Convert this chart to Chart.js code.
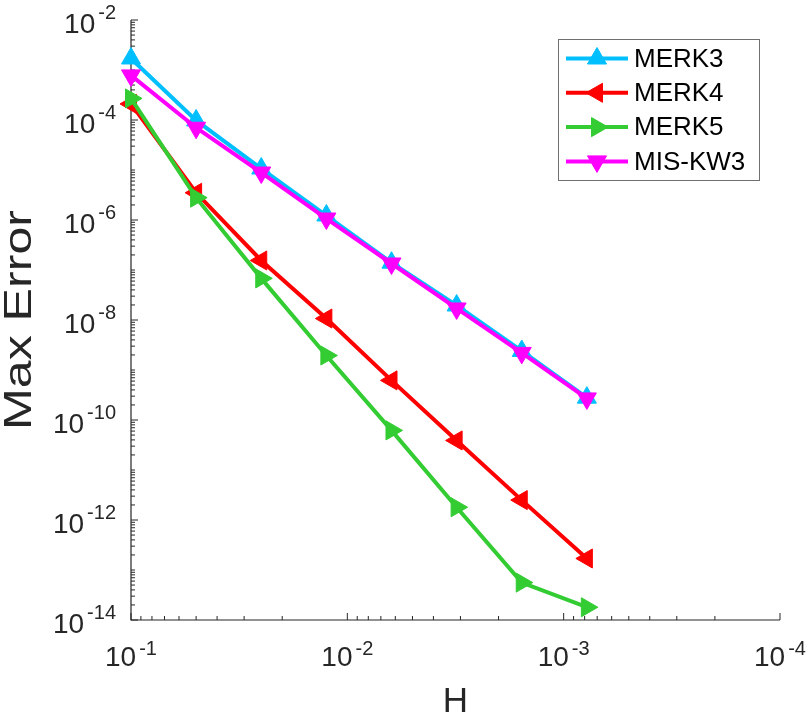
<!DOCTYPE html>
<html>
<head>
<meta charset="utf-8">
<script src="https://cdn.jsdelivr.net/npm/chart.js@4.4.1/dist/chart.umd.min.js"></script>
<style>
    html, body { margin: 0; padding: 0; background: #ffffff; }
    canvas { display: block; }
</style>
</head>
<body>
<canvas id="chart-error" width="809" height="715"></canvas>
<script>
// step sizes H and max error of each scheme
const stepSizes = [0.1, 0.05, 0.025, 0.0125, 0.00625, 0.003125, 0.0015625, 0.00078125];
const errMERK3 = [1.7e-3, 9.8e-5, 1.07e-5, 1.23e-6, 1.4e-7, 1.95e-8, 2.4e-9, 2.8e-10];
const errMERK4 = [2.1e-4, 3.5e-6, 1.55e-7, 1.07e-8, 6.2e-10, 3.9e-11, 2.5e-12, 1.7e-13];
const errMERK5 = [2.7e-4, 2.8e-6, 6.8e-8, 1.95e-9, 6.2e-11, 1.8e-12, 5.6e-14, 1.8e-14];
const errMISKW3 = [7.8e-4, 7.0e-5, 8.9e-6, 1.07e-6, 1.35e-7, 1.7e-8, 2.2e-9, 2.7e-10];

const seriesNames = ['MERK3', 'MERK4', 'MERK5', 'MIS-KW3'];

// tick labels (10^exp)
const xTickExps = ['-1', '-2', '-3', '-4'];
const yTickExps = ['-2', '-4', '-6', '-8', '-10', '-12', '-14'];

const FONT = '"Liberation Sans", Arial, Helvetica, sans-serif';
const AXIS_COLOR = '#262626';

function toPoints(xs, ys) {
    return xs.map((x, i) => ({ x: x, y: ys[i] }));
}

function makeSeries(label, values, color, rotation, order) {
    return {
        label: label,
        data: toPoints(stepSizes, values),
        borderColor: color,
        backgroundColor: color,
        borderWidth: 4,
        pointStyle: 'triangle',
        rotation: rotation,
        pointRadius: 11,
        pointBorderWidth: 1,
        pointBackgroundColor: color,
        pointBorderColor: color,
        tension: 0,
        fill: false,
        clip: false,
        order: order
    };
}

// minor tick values: 2..9 x 10^d plus unlabelled decades
function minorTicks(fromExp, toExp, majors) {
    const out = [];
    for (let d = fromExp; d < toExp; d++) {
        const base = Math.pow(10, d);
        if (!majors.includes(String(d))) out.push(base);
        for (let k = 2; k <= 9; k++) out.push(k * base);
    }
    return out;
}

// MATLAB-like axes: left + bottom lines, inward ticks, 10^n labels
const matlabAxes = {
    id: 'matlabAxes',
    beforeDatasetsDraw(chart) {
        const ctx = chart.ctx;
        const area = chart.chartArea;
        const xs = chart.scales.x;
        const ys = chart.scales.y;

        ctx.save();
        ctx.strokeStyle = AXIS_COLOR;
        ctx.lineWidth = 1.2;
        ctx.beginPath();
        ctx.moveTo(area.left, area.top);
        ctx.lineTo(area.left, area.bottom);
        ctx.lineTo(area.right, area.bottom);
        ctx.stroke();

        ctx.lineWidth = 1;
        ctx.beginPath();
        // x ticks
        xTickExps.forEach(e => {
            const px = xs.getPixelForValue(Math.pow(10, Number(e)));
            ctx.moveTo(px, area.bottom);
            ctx.lineTo(px, area.bottom - 7);
        });
        minorTicks(-4, -1, xTickExps).forEach(v => {
            const px = xs.getPixelForValue(v);
            ctx.moveTo(px, area.bottom);
            ctx.lineTo(px, area.bottom - 4);
        });
        // y ticks
        yTickExps.forEach(e => {
            const py = ys.getPixelForValue(Math.pow(10, Number(e)));
            ctx.moveTo(area.left, py);
            ctx.lineTo(area.left + 7, py);
        });
        minorTicks(-14, -2, yTickExps).forEach(v => {
            const py = ys.getPixelForValue(v);
            ctx.moveTo(area.left, py);
            ctx.lineTo(area.left + 4, py);
        });
        ctx.stroke();

        // tick labels
        ctx.fillStyle = AXIS_COLOR;
        ctx.textBaseline = 'alphabetic';
        const baseFont = '28px ' + FONT;
        const expFont = '20px ' + FONT;
        const gap = 3;

        xTickExps.forEach(e => {
            const px = xs.getPixelForValue(Math.pow(10, Number(e)));
            ctx.font = baseFont;
            const wb = ctx.measureText('10').width;
            ctx.font = expFont;
            const we = ctx.measureText(e).width;
            const start = px - (wb + we + gap) / 2;
            ctx.font = baseFont;
            ctx.textAlign = 'left';
            ctx.fillText('10', start, area.bottom + 46);
            ctx.font = expFont;
            ctx.fillText(e, start + wb + gap, area.bottom + 35);
        });

        yTickExps.forEach(e => {
            const py = ys.getPixelForValue(Math.pow(10, Number(e)));
            ctx.font = expFont;
            const we = ctx.measureText(e).width;
            const right = area.left - 15;
            ctx.textAlign = 'right';
            ctx.fillText(e, right, py - 1);
            ctx.font = baseFont;
            ctx.fillText('10', right - we - gap, py + 13);
        });

        // axis titles
        ctx.font = '35px ' + FONT;
        ctx.textAlign = 'center';
        ctx.fillText('H', (area.left + area.right) / 2, 712);

        ctx.save();
        ctx.translate(31, (area.top + area.bottom) / 2);
        ctx.rotate(-Math.PI / 2);
        ctx.font = '39px ' + FONT;
        const tw = ctx.measureText('Max Error').width;
        ctx.scale(220 / tw, 1);
        ctx.fillText('Max Error', 0, 0);
        ctx.restore();

        ctx.restore();
    },
    afterDraw(chart) {
        // legend box, top right
        const ctx = chart.ctx;
        const box = { x: 558.5, y: 39.5, w: 201, h: 141 };
        ctx.save();
        ctx.fillStyle = '#ffffff';
        ctx.fillRect(box.x, box.y, box.w, box.h);
        ctx.strokeStyle = '#707070';
        ctx.lineWidth = 1;
        ctx.strokeRect(box.x, box.y, box.w, box.h);

        chart.data.datasets.forEach((ds, i) => {
            const cy = 58.5 + i * 34.3;
            ctx.strokeStyle = ds.borderColor;
            ctx.lineWidth = ds.borderWidth;
            ctx.beginPath();
            ctx.moveTo(566, cy);
            ctx.lineTo(628, cy);
            ctx.stroke();
            ctx.fillStyle = ds.pointBackgroundColor;
            ctx.lineWidth = ds.pointBorderWidth;
            Chart.helpers.drawPoint(ctx, {
                pointStyle: ds.pointStyle,
                rotation: ds.rotation,
                radius: ds.pointRadius,
                borderWidth: ds.pointBorderWidth
            }, 597, cy);
            ctx.fillStyle = '#000000';
            ctx.font = '26px ' + FONT;
            ctx.textAlign = 'left';
            ctx.textBaseline = 'middle';
            ctx.fillText(ds.label, 634, cy + 1);
        });
        ctx.restore();
    }
};

const canvas = document.getElementById('chart-error');

new Chart(canvas, {
    type: 'line',
    data: {
        datasets: [
            makeSeries(seriesNames[0], errMERK3, '#00bfff', 0, 3),
            makeSeries(seriesNames[1], errMERK4, '#ff0000', -90, 2),
            makeSeries(seriesNames[2], errMERK5, '#33cc33', 90, 1),
            makeSeries(seriesNames[3], errMISKW3, '#ff00ff', 180, 0)
        ]
    },
    options: {
        responsive: false,
        animation: false,
        devicePixelRatio: 1,
        layout: {
            padding: { left: 131, right: 29, top: 20, bottom: 95 }
        },
        plugins: {
            legend: { display: false },
            tooltip: { enabled: false }
        },
        scales: {
            x: {
                type: 'logarithmic',
                reverse: true,
                min: 1e-4,
                max: 1e-1,
                display: false
            },
            y: {
                type: 'logarithmic',
                min: 1e-14,
                max: 1e-2,
                display: false
            }
        }
    },
    plugins: [matlabAxes]
});
</script>
</body>
</html>
